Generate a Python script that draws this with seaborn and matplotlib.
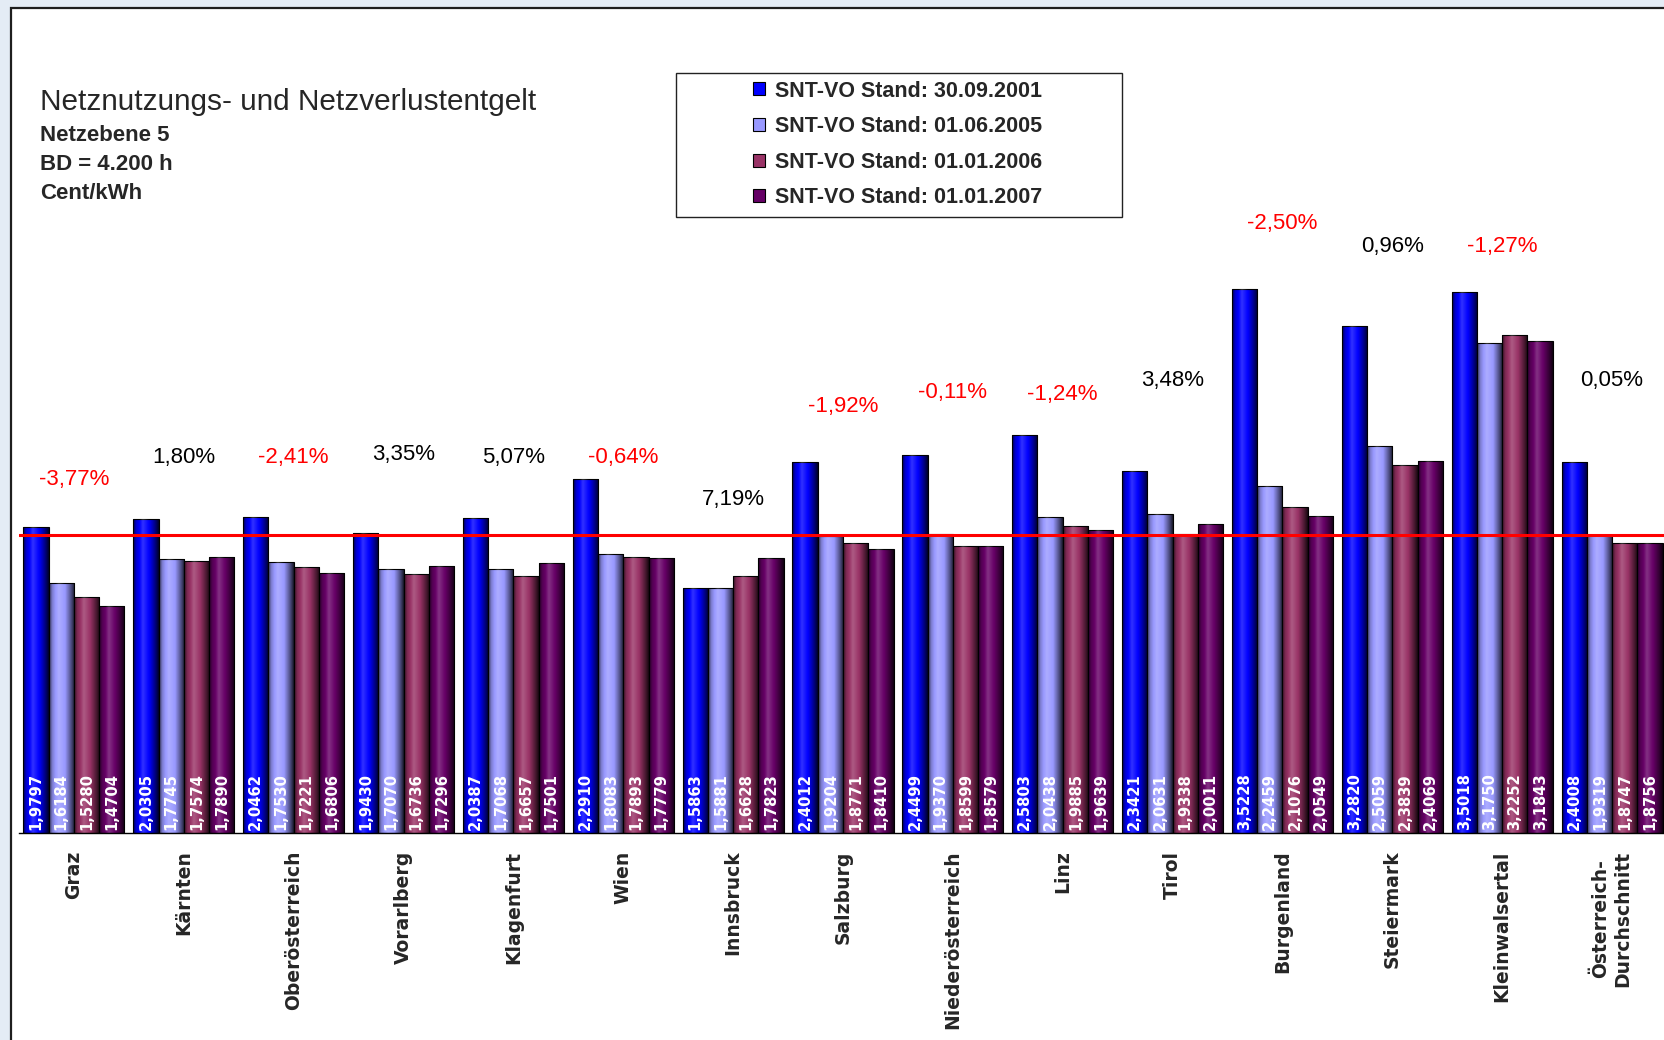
import numpy as np
import pandas as pd
import matplotlib
matplotlib.use("Agg")
import matplotlib.pyplot as plt
from matplotlib import font_manager
from matplotlib.patches import Rectangle, Patch
import seaborn as sns

# Daten (Cent/kWh, Netzebene 5)
regionen = ["Graz", "Kärnten", "Oberösterreich", "Vorarlberg", "Klagenfurt", "Wien",
            "Innsbruck", "Salzburg", "Niederösterreich", "Linz", "Tirol", "Burgenland",
            "Steiermark", "Kleinwalsertal", "Österreich-\nDurchschnitt"]
staende = ["SNT-VO Stand: 30.09.2001", "SNT-VO Stand: 01.06.2005",
           "SNT-VO Stand: 01.01.2006", "SNT-VO Stand: 01.01.2007"]
werte_2001 = [1.9797, 2.0305, 2.0462, 1.9430, 2.0387, 2.2910, 1.5863, 2.4012,
              2.4499, 2.5803, 2.3421, 3.5228, 3.2820, 3.5018, 2.4008]
werte_2005 = [1.6184, 1.7745, 1.7530, 1.7070, 1.7068, 1.8083, 1.5881, 1.9204,
              1.9370, 2.0438, 2.0631, 2.2459, 2.5059, 3.1750, 1.9319]
werte_2006 = [1.5280, 1.7574, 1.7221, 1.6736, 1.6657, 1.7893, 1.6628, 1.8771,
              1.8599, 1.9885, 1.9338, 2.1076, 2.3839, 3.2252, 1.8747]
werte_2007 = [1.4704, 1.7890, 1.6806, 1.7296, 1.7501, 1.7779, 1.7823, 1.8410,
              1.8579, 1.9639, 2.0011, 2.0549, 2.4069, 3.1843, 1.8756]
# Veraenderung 2006 -> 2007 in %
aenderung = [-3.77, 1.80, -2.41, 3.35, 5.07, -0.64, 7.19, -1.92,
             -0.11, -1.24, 3.48, -2.50, 0.96, -1.27, 0.05]
# Hoehe der Prozent-Beschriftung (Achsenwerte)
prozent_hoehe = [2.29, 2.43, 2.43, 2.45, 2.43, 2.43, 2.16, 2.76,
                 2.85, 2.84, 2.93, 3.95, 3.80, 3.80, 2.93]

farben = ["#0000FF", "#9999FF", "#993366", "#660066"]

W, H = 1665, 1040

df = pd.DataFrame({
    "Region": regionen * 4,
    "Stand": sum([[s] * len(regionen) for s in staende], []),
    "Wert": werte_2001 + werte_2005 + werte_2006 + werte_2007,
})

sns.set_style("white")
namen = {f.name for f in font_manager.fontManager.ttflist}
if "Liberation Sans Narrow" in namen:
    schmal, schmal_groesse = "Liberation Sans Narrow", 19
else:
    schmal, schmal_groesse = "Liberation Sans", 16
plt.rcParams["font.family"] = ["Liberation Sans", "DejaVu Sans"]

fig = plt.figure(figsize=(W / 100, H / 100), dpi=100)
fig.patch.set_facecolor("#E4ECF5")
fig.add_artist(Rectangle((11 / W, -0.05), 1.2, 1.05 - 8 / H, transform=fig.transFigure,
                         facecolor="white", edgecolor="#1E1E1E", lw=1.6, zorder=-5))

ax = fig.add_axes([19 / W, 1 - 832.5 / H, 1648 / W, (832.5 - 215.6) / H])
ax.set_facecolor("none")

sns.barplot(data=df, x="Region", y="Wert", hue="Stand", palette=farben, width=0.92,
            gap=0, edgecolor="black", linewidth=0.8, saturation=1, legend=False, ax=ax)

# Verlauf auf den Balken (Excel-Zylinderoptik)
t = np.linspace(0, 1, 80)
schatten = np.interp(t, [0, 0.12, 0.38, 0.62, 0.86, 1], [-0.7, -0.2, 0.2, 0.0, -0.5, -0.85])
rgba = np.zeros((1, 80, 4))
rgba[0, :, :3] = (schatten > 0)[:, None] * 1.0
rgba[0, :, 3] = np.abs(schatten)
for bar in ax.patches:
    x0, w, h = bar.get_x(), bar.get_width(), bar.get_height()
    im = ax.imshow(rgba, extent=[x0, x0 + w, 0, h], aspect="auto",
                   interpolation="bilinear", zorder=2.5)
    im.set_clip_path(bar)

# Werte in den Balken
for cont in ax.containers:
    for bar in cont:
        wert = bar.get_height()
        ax.text(bar.get_x() + bar.get_width() / 2, 0.015, f"{wert:.4f}".replace(".", ","),
                rotation=90, ha="center", va="bottom", color="white", fontsize=10.6,
                fontweight="bold", family="DejaVu Sans", zorder=4)

# Durchschnittslinie
ax.axhline(werte_2005[-1], color="#FF0000", lw=2.2, zorder=5)

# Prozent-Beschriftungen
for i, (p, y) in enumerate(zip(aenderung, prozent_hoehe)):
    txt = f"{p:.2f}%".replace(".", ",")
    ax.text(i, y, txt, ha="center", va="center", fontsize=16,
            color="#FF0000" if p < 0 else "black", zorder=6)

ax.set_xlim(-0.5, len(regionen) - 0.5)
ax.set_ylim(0, 4)
ax.set_xlabel("")
ax.set_ylabel("")
ax.set_yticks([])
for s in ["left", "right", "top"]:
    ax.spines[s].set_visible(False)
ax.spines["bottom"].set_color("black")
ax.spines["bottom"].set_linewidth(1.0)
ax.set_xticks(range(len(regionen)))
ax.set_xticklabels(regionen, rotation=90, fontsize=13.5, fontweight="bold",
                   family="DejaVu Sans", multialignment="center")
ax.set_xticks(np.arange(-0.5, len(regionen), 1), minor=True)
ax.tick_params(axis="x", which="major", length=0, pad=13)
ax.tick_params(axis="x", which="minor", length=8, width=1, color="black", direction="out")

# Titel
fig.text(40 / W, 1 - 110 / H, "Netznutzungs- und Netzverlustentgelt", fontsize=21.4,
         va="baseline", ha="left")
for j, zeile in enumerate(["Netzebene 5", "BD = 4.200 h", "Cent/kWh"]):
    fig.text(40 / W, 1 - (141 + 29 * j) / H, zeile, fontsize=schmal_groesse,
             fontweight="bold", family=schmal, va="baseline", ha="left")

# Legende
handles = [Patch(facecolor=c, edgecolor="black", lw=0.8) for c in farben]
fig.legend(handles, staende, loc="center", bbox_to_anchor=(897.5 / W, 1 - 144.5 / H),
           frameon=False, prop=dict(family="Liberation Sans", weight="bold", size=15.5),
           handlelength=0.55, handleheight=0.55, handletextpad=0.45, labelspacing=0.68)
fig.add_artist(Rectangle((676 / W, 1 - 217 / H), 446 / W, 144 / H, transform=fig.transFigure,
                         fill=False, edgecolor="#222222", lw=1, zorder=5))

fig.savefig("out.png", dpi=100)
